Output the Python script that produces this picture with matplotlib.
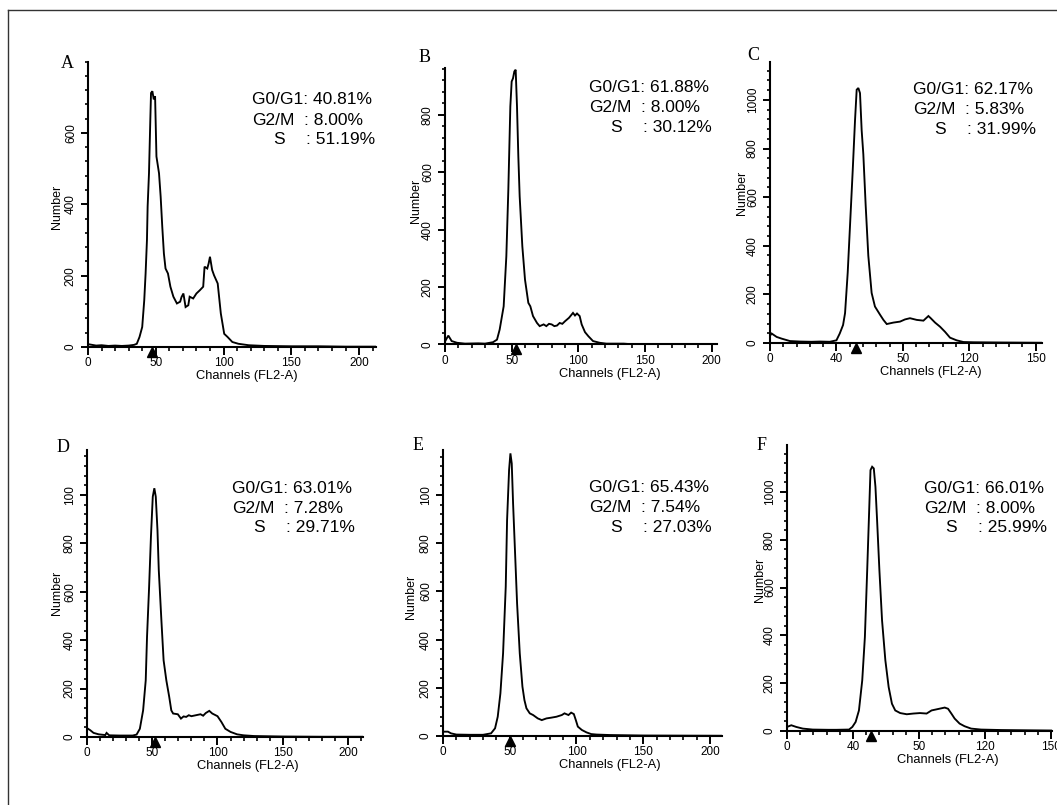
import matplotlib
matplotlib.use("Agg")
import matplotlib.pyplot as plt
from matplotlib.ticker import MultipleLocator
from matplotlib.lines import Line2D
from matplotlib.transforms import offset_copy

W, H = 1057, 805
plt.rcParams['font.family'] = ['Liberation Sans', 'DejaVu Sans']

# ---------------- data ----------------
panel_letters = ["A", "B", "C", "D", "E", "F"]
g0g1 = ["40.81%", "61.88%", "62.17%", "63.01%", "65.43%", "66.01%"]
g2m = ["8.00%", "8.00%", "5.83%", "7.28%", "7.54%", "8.00%"]
s_phase = ["51.19%", "30.12%", "31.99%", "29.71%", "27.03%", "25.99%"]

chA = [0, 3, 6, 10, 15, 20, 25, 30, 34, 36, 38, 40, 41.5, 42.5, 43.5, 44, 45, 46, 46.5, 47.5,
       48.5, 49.5, 50.5, 52.4, 53.6, 54.8, 56, 57.2, 59, 60.8, 63, 65.6, 68, 69, 70.4, 72, 74,
       75, 77.6, 80, 82.5, 85, 86, 88, 89, 90, 91.6, 93, 95.7, 98, 100.5, 103, 106.5, 111,
       118.5, 130, 150, 170, 190, 212]
cntA = [8, 6, 4, 5, 3, 4, 3, 4, 6, 9, 28, 56, 131, 206, 300, 394, 487, 640, 712, 717,
        694, 703, 534, 487, 422, 337, 262, 220, 206, 169, 141, 122, 127, 140, 150, 112, 117,
        141, 136, 150, 159, 169, 225, 220, 234, 253, 216, 201, 178, 94, 37, 28, 14, 9,
        5, 3, 2, 2, 1, 1]

chB = [0, 0.75, 2.5, 5, 9, 15, 25, 30, 36, 39, 41, 44, 46, 47.5, 49, 50, 51, 52, 53, 54, 55,
       56, 58, 60, 62.5, 64, 66, 69, 71, 74, 76, 78, 80, 82, 84, 86, 88, 90, 93, 96, 97.5,
       99, 101, 102.5, 105, 107.5, 111, 116, 121, 134, 140, 205]
cntB = [10, 17, 31, 12, 6, 3, 4, 3, 8, 17, 52, 133, 307, 539, 829, 916, 927, 951, 957, 829, 655,
        516, 342, 226, 145, 133, 99, 75, 64, 70, 64, 72, 70, 64, 66, 75, 72, 81, 93, 110, 101,
        108, 99, 70, 43, 29, 12, 6, 3, 3, 1, 0]

chC = [0, 1, 4, 7, 12, 18, 25, 30, 36, 40, 42, 44, 45.2, 46.8, 48.2, 49.8, 51.2, 52.2, 53.2,
       54.2, 55.2, 56.2, 57.6, 59.2, 61.2, 63.2, 66.3, 68.3, 70.3, 74.3, 78.3, 81.3, 84.3,
       88.4, 92.4, 95.4, 96.8, 99.4, 102.4, 105.4, 108.4, 112.4, 116.5, 122.5, 140, 164]
cntC = [30, 39, 25, 18, 8, 6, 5, 6, 5, 11, 39, 74, 123, 290, 485, 708, 916, 1042, 1049,
        1028, 875, 777, 568, 359, 206, 150, 116, 95, 78, 84, 88, 97, 102,
        95, 92, 111, 102, 84, 67, 46, 22, 11, 4, 3, 2, 1]

chD = [0, 0.8, 2.5, 5, 9, 14, 15, 17, 25, 30, 35, 38, 40.5, 43, 45, 46, 47.6, 49, 50.4, 51.6,
       52.7, 54, 55, 57, 58.7, 60.8, 63, 64.6, 66, 69.6, 72, 74, 76, 78, 80, 83.5, 87, 89,
       91, 93.7, 96, 100, 103, 106, 110, 115, 120, 128, 150, 180, 211]
cntD = [30, 34, 28, 17, 11, 8, 17, 7, 6, 6, 6, 10, 34, 110, 234, 414, 621, 828, 993, 1028,
        993, 855, 690, 483, 317, 234, 166, 110, 97, 94, 76, 85, 83, 90, 86, 90, 94, 88,
        99, 108, 97, 86, 62, 34, 21, 11, 7, 4, 2, 1, 1]

chE = [0, 0.75, 3.75, 6, 10, 20, 30, 36, 39, 41, 43, 45, 47, 48, 49.5, 50.5, 51.5, 52.5, 54,
       55.5, 57.5, 59.5, 61, 62.5, 65, 67.5, 71, 74, 77.5, 81, 85, 89, 91, 94, 96, 98, 99.5,
       101, 104, 107.5, 111, 115, 125, 150, 209]
cntE = [15, 18, 18, 11, 6, 5, 5, 11, 32, 80, 177, 343, 620, 896, 1104, 1173, 1131, 965, 758,
        550, 343, 205, 149, 115, 94, 87, 73, 66, 73, 76, 80, 87, 94, 87, 97, 91, 66,
        39, 25, 15, 8, 6, 4, 2, 1]

chF = [0, 2.6, 5.6, 9.6, 15.6, 25, 30, 37.6, 39.6, 41.6, 43.6, 45.6, 47.2, 48.6, 49.6, 50.6,
       51.6, 52.6, 53.6, 54.6, 56, 57.6, 59.6, 61.6, 63.6, 65.6, 68.6, 72.6, 76.6, 80.6, 84.6,
       87.6, 91.6, 95.6, 97.6, 99.6, 101.6, 104.6, 107.6, 111.6, 117.6, 130, 160]
cntF = [17, 24, 17, 10, 6, 5, 5, 6, 17, 38, 86, 212, 393, 672, 881, 1091,
        1105, 1098, 1021, 881, 672, 463, 296, 184, 114, 86, 75, 70, 73, 75, 73,
        86, 92, 98, 93, 73, 52, 31, 20, 10, 6, 4, 2]

g1_marker = [47, 53, 52, 52, 50.5, 51]

xticks_std = [0, 50, 100, 150, 200]
xlabels_std = ["0", "50", "100", "150", "200"]
xticks_alt = [0, 40, 80, 120, 160]
xlabels_alt = ["0", "40", "50", "120", "150"]

yticks_A = [0, 200, 400, 600]
ylabels_A = ["0", "200", "400", "600"]
yticks_B = [0, 200, 400, 600, 800]
ylabels_B = ["0", "200", "400", "600", "800"]
yticks_C = [0, 200, 400, 600, 800, 1000]
ylabels_C = ["0", "200", "400", "600", "800", "1000"]
ylabels_DE = ["0", "200", "400", "600", "800", "100"]

# ---------------- layout (pixels) ----------------
panels = [
    dict(x=chA, y=cntA, box=(88, 376, 61.6, 347), xlim=212.5, ylim=800,
         xt=xticks_std, xl=xlabels_std, xm=10, yt=yticks_A, yl=ylabels_A,
         let=(67, 63), st=(252, 100), nl=(57, 207), cl=247),
    dict(x=chB, y=cntB, box=(445, 717, 68, 344.5), xlim=204, ylim=963,
         xt=xticks_std, xl=xlabels_std, xm=10, yt=yticks_B, yl=ylabels_B,
         let=(425, 58), st=(589, 88), nl=(416, 201), cl=610),
    dict(x=chC, y=cntC, box=(770, 1042, 62, 343), xlim=163.8, ylim=1156,
         xt=xticks_alt, xl=xlabels_alt, xm=8, yt=yticks_C, yl=ylabels_C,
         let=(753, 55), st=(913, 89), nl=(742, 193), cl=931),
    dict(x=chD, y=cntD, box=(87, 363, 450, 737), xlim=211.5, ylim=1186,
         xt=xticks_std, xl=xlabels_std, xm=10, yt=yticks_C, yl=ylabels_DE,
         let=(63, 447), st=(232, 488), nl=(57, 593), cl=248),
    dict(x=chE, y=cntE, box=(443, 722, 450, 736), xlim=209, ylim=1187,
         xt=xticks_std, xl=xlabels_std, xm=10, yt=yticks_C, yl=ylabels_DE,
         let=(418, 445), st=(589, 487), nl=(411, 597), cl=610),
    dict(x=chF, y=cntF, box=(787, 1052, 445, 731), xlim=160.6, ylim=1196,
         xt=xticks_alt, xl=xlabels_alt, xm=8, yt=yticks_C, yl=ylabels_C,
         let=(762, 445), st=(924, 488), nl=(760, 580), cl=948),
]

fig = plt.figure(figsize=(W / 100, H / 100), dpi=100)
fig.patch.set_facecolor("white")


def fx(px):
    return px / W


def fy(py):
    return 1 - py / H


for i, p in enumerate(panels):
    l, r, t, b = p["box"]
    ax = fig.add_axes([fx(l), fy(b), (r - l) / W, (b - t) / H])
    ax.plot(p["x"], p["y"], color="black", lw=1.35, solid_joinstyle="miter")
    ax.set_xlim(0, p["xlim"])
    ax.set_ylim(0, p["ylim"])
    for s in ["top", "right"]:
        ax.spines[s].set_visible(False)
    for s in ["left", "bottom"]:
        ax.spines[s].set_linewidth(1.5)
    ax.set_xticks(p["xt"])
    ax.set_xticklabels(p["xl"])
    ax.xaxis.set_minor_locator(MultipleLocator(p["xm"]))
    ax.set_yticks(p["yt"])
    ax.set_yticklabels(p["yl"], rotation=90, va="center")
    ax.yaxis.set_minor_locator(MultipleLocator(40))
    ax.tick_params(axis="x", which="major", direction="out", length=5.5, width=1.4,
                   labelsize=8.5, pad=1.8)
    ax.tick_params(axis="x", which="minor", direction="out", length=2.8, width=1.2)
    ax.tick_params(axis="y", which="major", direction="out", length=5, width=1.4,
                   labelsize=8.5, pad=3)
    ax.tick_params(axis="y", which="minor", direction="out", length=2.5, width=1.2)
    ax.patch.set_alpha(0)

    tr = offset_copy(ax.transData, fig=fig, x=0, y=-5, units="dots")
    ax.plot([g1_marker[i]], [0], marker="^", color="black", markersize=6.5,
            transform=tr, clip_on=False, linestyle="none")

    lx, ly = p["let"]
    fig.text(fx(lx), fy(ly), panel_letters[i], family="Liberation Serif", fontsize=13,
             ha="center", va="center")
    sx, sy = p["st"]
    fs = 12.5
    fig.text(fx(sx), fy(sy), "G0/G1: " + g0g1[i], fontsize=fs, ha="left", va="center")
    fig.text(fx(sx), fy(sy + 20), "G2/M", fontsize=fs, ha="left", va="center")
    fig.text(fx(sx + 52), fy(sy + 20), ": " + g2m[i], fontsize=fs, ha="left", va="center")
    fig.text(fx(sx + 21), fy(sy + 40), "S", fontsize=fs, ha="left", va="center")
    fig.text(fx(sx + 54), fy(sy + 40), ": " + s_phase[i], fontsize=fs, ha="left", va="center")

    nx, ny = p["nl"]
    fig.text(fx(nx), fy(ny), "Number", fontsize=9, rotation=90, ha="center", va="center")
    fig.text(fx(p["cl"]), fy(b + 23), "Channels (FL2-A)", fontsize=9.3,
             ha="center", va="top")

# outer frame (left and top edges)
fig.add_artist(Line2D([fx(8), fx(8)], [0, fy(10)], color="#333333", lw=1.0))
fig.add_artist(Line2D([fx(8), 1], [fy(10), fy(10)], color="#333333", lw=1.0))

fig.savefig("out.png", dpi=100)
